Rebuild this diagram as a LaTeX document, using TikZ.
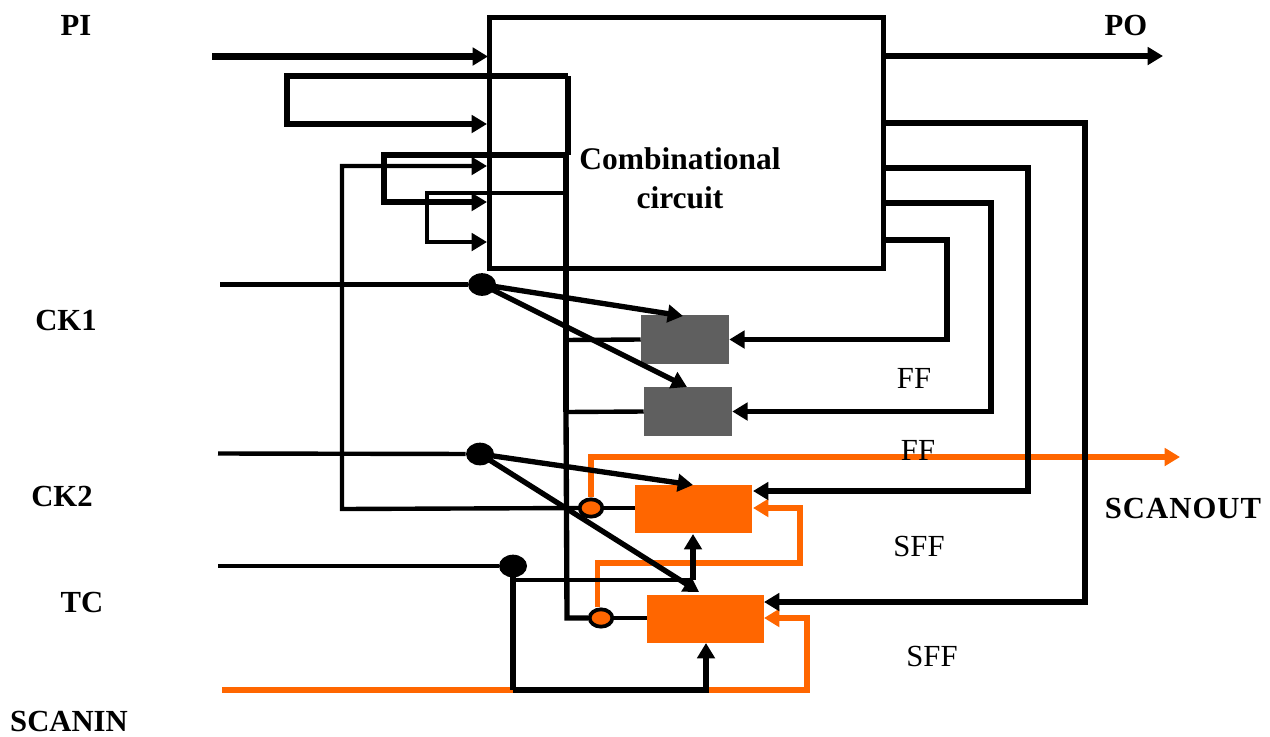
\documentclass[tikz,border=0pt]{standalone}
\usepackage{fontspec}
\setmainfont{Liberation Serif}
\usetikzlibrary{arrows.meta,shapes.geometric}
\definecolor{sorange}{HTML}{FF6600}
\definecolor{ffgrey}{HTML}{5F5F5F}
\tikzset{
  wire/.style={draw=black,line width=4pt,line cap=butt,line join=miter},
  thin wire/.style={wire,line width=3.3pt},
  heavy wire/.style={wire,line width=5.2pt},
  owire/.style={wire,draw=sorange,line width=3.8pt},
  tip/.style={-{Triangle[length=11.5pt,width=13pt]}},
  ffbox/.style={draw=none,fill=ffgrey,rectangle,minimum width=66pt,minimum height=37pt,inner sep=0pt},
  sffbox/.style={draw=none,fill=sorange,rectangle,minimum width=88pt,minimum height=36pt,inner sep=0pt},
  dot/.style={ellipse,fill=black,draw=none,minimum width=21pt,minimum height=17pt,inner sep=0pt},
  ring/.style={ellipse,fill=sorange,draw=black,line width=2.8pt,minimum width=17pt,minimum height=13pt,inner sep=0pt},
  lab/.style={font=\fontsize{23pt}{29pt}\selectfont\bfseries,inner sep=0pt},
  ff/.style={font=\fontsize{23pt}{25pt}\selectfont,inner sep=0pt},
  core/.style={rectangle,draw=black,line width=3.7pt,fill=none,minimum width=296pt,minimum height=188pt,inner sep=0pt}
}
\begin{document}
\begin{tikzpicture}[x=0.75pt,y=-0.75pt]
\useasboundingbox (0,0) rectangle (1270,736);
% main nodes
\node[core] (cc) at (686.5,143) {};
\node[ffbox] (ff1) at (685,339.5) {};
\node[ffbox] (ff2) at (688,411.5) {};
\node[sffbox] (sff1) at (693.5,509) {};
\node[sffbox] (sff2) at (705.5,618.5) {};
\node[dot] (ck1dot) at (482,284.5) {};
\node[dot] (ck2dot) at (480,454) {};
\node[dot] (tcdot) at (513,566) {};
% free ends and bends
\coordinate (piS) at (212,56.5);
\coordinate (piE) at (488,56.5);
\coordinate (poS) at (884,56);
\coordinate (poE) at (1163,56);
\coordinate (fbA) at (568,76);
\coordinate (fbB) at (287,76);
\coordinate (fbC) at (287,124);
\coordinate (fbD) at (487,124);
\coordinate (bus1) at (568,155);
\coordinate (busT) at (566,155);
\coordinate (busM) at (566,193);
\coordinate (busF) at (566,412);
\coordinate (busL) at (567,618);
\coordinate (fbE) at (384,155);
\coordinate (fbF) at (384,202);
\coordinate (fbG) at (487,202);
\coordinate (fbH) at (427,193);
\coordinate (fbI) at (427,242);
\coordinate (fbJ) at (487,242);
\coordinate (lpA) at (487,166);
\coordinate (lpB) at (342,166);
\coordinate (lpC) at (342,509);
\coordinate (ck1S) at (220,284.5);
\coordinate (ck2S) at (218,453.5);
\coordinate (tcS) at (218,566);
\coordinate (ck1a) at (683,316);
\coordinate (ck1b) at (687,387);
\coordinate (ck2a) at (693,485);
\coordinate (ck2b) at (699,592);
\coordinate (bus1ff) at (564,340);
\coordinate (o1) at (881,240);
\coordinate (o1b) at (947,240);
\coordinate (o2) at (884,203);
\coordinate (o2b) at (991,203);
\coordinate (o3) at (884,168);
\coordinate (o3b) at (1028,168);
\coordinate (o3c) at (1028,491);
\coordinate (o3e) at (753,491);
\coordinate (o4) at (884,123);
\coordinate (o4b) at (1085,123);
\coordinate (o4c) at (1085,602);
\coordinate (o4e) at (764,602);
\coordinate (tcJ) at (513,580);
\coordinate (tcK) at (693,580);
\coordinate (tcU) at (693,534);
\coordinate (siS) at (222,690);
\coordinate (siA) at (513,690);
\coordinate (siB) at (706,690);
\coordinate (siU) at (706,643);
\coordinate (siC) at (807,690);
\coordinate (siD) at (807,618);
\coordinate (siE) at (764,618);
\coordinate (soA) at (591,457);
\coordinate (soE) at (1180,457);
\coordinate (lkA) at (597.5,563);
\coordinate (lkB) at (800,563);
\coordinate (lkC) at (800,508);
\coordinate (lkE) at (753,508);
% orange scan path
\node[ring] (r1) at (591,508) {};
\node[ring] (r2) at (601,618) {};
\draw[owire,tip] (r1.north) -- (soA) -- (soE);
\draw[owire,tip] (r2.north -| lkA) -- (lkA) -- (lkB) -- (lkC) -- (lkE);
\draw[owire,tip] (siS) -- (siC) -- (siD) -- (siE);
% scan/test wires over the orange one
\draw[wire] (tcdot.center) -- (siA);
\draw[wire,tip] (siA) -- (siB) -- (siU);
% combinational feedback
\draw[heavy wire,tip] (piS) -- (piE);
\draw[wire,tip] (poS) -- (poE);
\draw[wire,tip] (fbA) -- (fbB) -- (fbC) -- (fbD);
\draw[wire] (fbA) -- (bus1);
\draw[heavy wire] (busT) -- (busF);
\draw[wire] (busF) -- (busL) -- (r2.west);
\draw[wire,tip] (busT) -- (fbE) -- (fbF) -- (fbG);
\draw[thin wire,tip] (busM) -- (fbH) -- (fbI) -- (fbJ);
\draw[thin wire,tip] (r1.west) -- (lpC) -- (lpB) -- (lpA);
% clocks
\draw[thin wire] (ck1S) -- (ck1dot);
\draw[thin wire] (ck2S) -- (ck2dot);
\draw[thin wire] (tcS) -- (tcdot);
\draw[wire,tip] (ck1dot.center) -- (ck1a);
\draw[wire,tip] (ck1dot.center) -- (ck1b);
\draw[wire,tip] (ck2dot.center) -- (ck2a);
\draw[wire,tip] (ck2dot.center) -- (ck2b);
% FF connections
\draw[thin wire] (bus1ff) -- (ff1.west);
\draw[thin wire] (busF) -- (ff2.west);
\draw[thin wire] (r1.east) -- (r1.east -| sff1.west);
\draw[thin wire] (r2.east) -- (r2.east -| sff2.west);
\draw[wire,tip] (o1) -- (o1b) |- (ff1.east);
\draw[wire,tip] (o2) -- (o2b) |- (ff2.east);
\draw[wire,tip] (o3) -- (o3b) -- (o3c) -- (o3e);
\draw[wire,tip] (o4) -- (o4b) -- (o4c) -- (o4e);
\draw[thin wire] (tcJ) -- (tcK);
\draw[wire,tip] (tcK) -- (tcU);
% labels
\node[lab] (tPI) at (76,25) {PI};
\node[lab] (tPO) at (1126,25) {PO};
\node[lab] (tCK1) at (66,320) {CK1};
\node[lab] (tCK2) at (62,496) {CK2};
\node[lab] (tTC) at (82,602) {TC};
\node[lab] (tSI) at (69,721) {SCANIN};
\node[lab] (tSO) at (1183,508) {S\kern.8pt C\kern.8pt A\kern.8pt N\kern.8pt O\kern.8pt U\kern.8pt T};
\node[lab,align=center,font=\fontsize{23.6pt}{29pt}\selectfont\bfseries] (tCC) at (680,178.5) {Combinational\\circuit};
\node[ff] (tF1) at (914,378) {FF};
\node[ff] (tF2) at (918,450) {FF};
\node[ff] (tS1) at (919,546) {SFF};
\node[ff] (tS2) at (932,656) {SFF};
\end{tikzpicture}
\end{document}
